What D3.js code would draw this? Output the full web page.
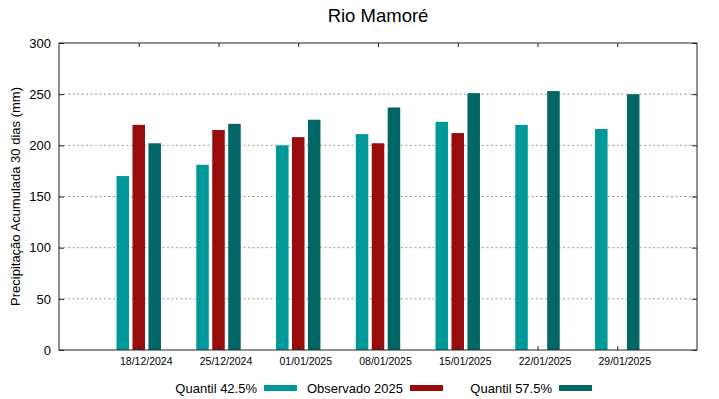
<!DOCTYPE html>
<html>
<head>
<meta charset="utf-8">
<script src="https://cdn.jsdelivr.net/npm/d3@7"></script>
<style>
  body { margin: 0; background: #fff; }
  svg { font-family: "Liberation Sans", Arial, sans-serif; }
</style>
</head>
<body>
<svg id="chart" width="719" height="399"></svg>
<script>
const dates = ["18/12/2024", "25/12/2024", "01/01/2025", "08/01/2025", "15/01/2025", "22/01/2025", "29/01/2025"];
const quantil425 = [170, 181, 200, 211, 223, 220, 216];
const observado2025 = [220, 215, 208, 202, 212, null, null];
const quantil575 = [202, 221, 225, 237, 251, 253, 250];
const yTicks = [0, 50, 100, 150, 200, 250, 300];

const series = [
    { name: "Quantil 42.5%", values: quantil425, color: "#009999", offset: -0.2 },
    { name: "Observado 2025", values: observado2025, color: "#990c0c", offset: 0 },
    { name: "Quantil 57.5%", values: quantil575, color: "#006666", offset: 0.2 },
];

const svg = d3.select("#chart");
const plot = { left: 59, right: 697, top: 43, bottom: 350 };

const x = d3.scaleLinear().domain([-1, dates.length]).range([plot.left, plot.right]);
const y = d3.scaleLinear().domain([0, 300]).range([plot.bottom, plot.top]);
const barW = 0.157;

// grid
svg.append("g")
    .selectAll("line")
    .data(yTicks.filter((d) => d > 0 && d < 300))
    .join("line")
    .attr("x1", plot.left)
    .attr("x2", plot.right)
    .attr("y1", (d) => y(d))
    .attr("y2", (d) => y(d))
    .attr("stroke", "#9a9a9a")
    .attr("stroke-width", 1)
    .attr("stroke-dasharray", "2,2.5");

// bars
series.forEach((s) => {
    svg.append("g")
        .selectAll("rect")
        .data(s.values.map((v, i) => ({ v, i })).filter((d) => d.v != null))
        .join("rect")
        .attr("x", (d) => x(d.i + s.offset - barW / 2))
        .attr("width", (d) => x(d.i + s.offset + barW / 2) - x(d.i + s.offset - barW / 2))
        .attr("y", (d) => y(d.v))
        .attr("height", (d) => y(0) - y(d.v))
        .attr("fill", s.color);
});

// axes
const xBottom = svg.append("g")
    .attr("transform", `translate(0,${plot.bottom})`)
    .call(d3.axisBottom(x).tickValues(d3.range(dates.length)).tickFormat((i) => dates[i]).tickSizeInner(-4).tickSizeOuter(0));
xBottom.selectAll("text").attr("dx", 7).attr("dy", 12).attr("font-size", 10.5).attr("fill", "#000");

svg.append("g")
    .attr("transform", `translate(0,${plot.top})`)
    .call(d3.axisTop(x).tickValues(d3.range(dates.length)).tickFormat("").tickSizeInner(-4).tickSizeOuter(0));

const yLeft = svg.append("g")
    .attr("transform", `translate(${plot.left},0)`)
    .call(d3.axisLeft(y).tickValues(yTicks).tickSizeInner(-5).tickSizeOuter(0));
yLeft.selectAll("text").attr("x", -8).attr("font-size", 13).attr("fill", "#000");

svg.append("g")
    .attr("transform", `translate(${plot.right},0)`)
    .call(d3.axisRight(y).tickValues(yTicks).tickFormat("").tickSizeInner(-5).tickSizeOuter(0));

svg.selectAll(".domain").remove();
svg.selectAll(".tick line").attr("stroke", "#222");

svg.append("rect")
    .attr("x", plot.left)
    .attr("y", plot.top)
    .attr("width", plot.right - plot.left)
    .attr("height", plot.bottom - plot.top)
    .attr("fill", "none")
    .attr("stroke", "#222")
    .attr("stroke-width", 1);

// title
svg.append("text")
    .attr("x", (plot.left + plot.right) / 2)
    .attr("y", 22)
    .attr("text-anchor", "middle")
    .attr("font-size", 18.5)
    .text("Rio Mamoré");

// y label
svg.append("text")
    .attr("transform", `translate(20,${(plot.top + plot.bottom) / 2}) rotate(-90)`)
    .attr("text-anchor", "middle")
    .attr("font-size", 13)
    .text("Precipitação Acumulada 30 dias (mm)");

// legend
const legendX = [257, 403, 552];
const legend = svg.append("g")
    .selectAll("g")
    .data(series)
    .join("g")
    .attr("transform", (d, i) => `translate(${legendX[i]},388)`);

legend.append("text")
    .attr("x", 0)
    .attr("y", 4.5)
    .attr("text-anchor", "end")
    .attr("font-size", 13)
    .text((d) => d.name);

legend.append("rect")
    .attr("x", 7)
    .attr("y", -3)
    .attr("width", 33)
    .attr("height", 6)
    .attr("fill", (d) => d.color);
</script>
</body>
</html>
